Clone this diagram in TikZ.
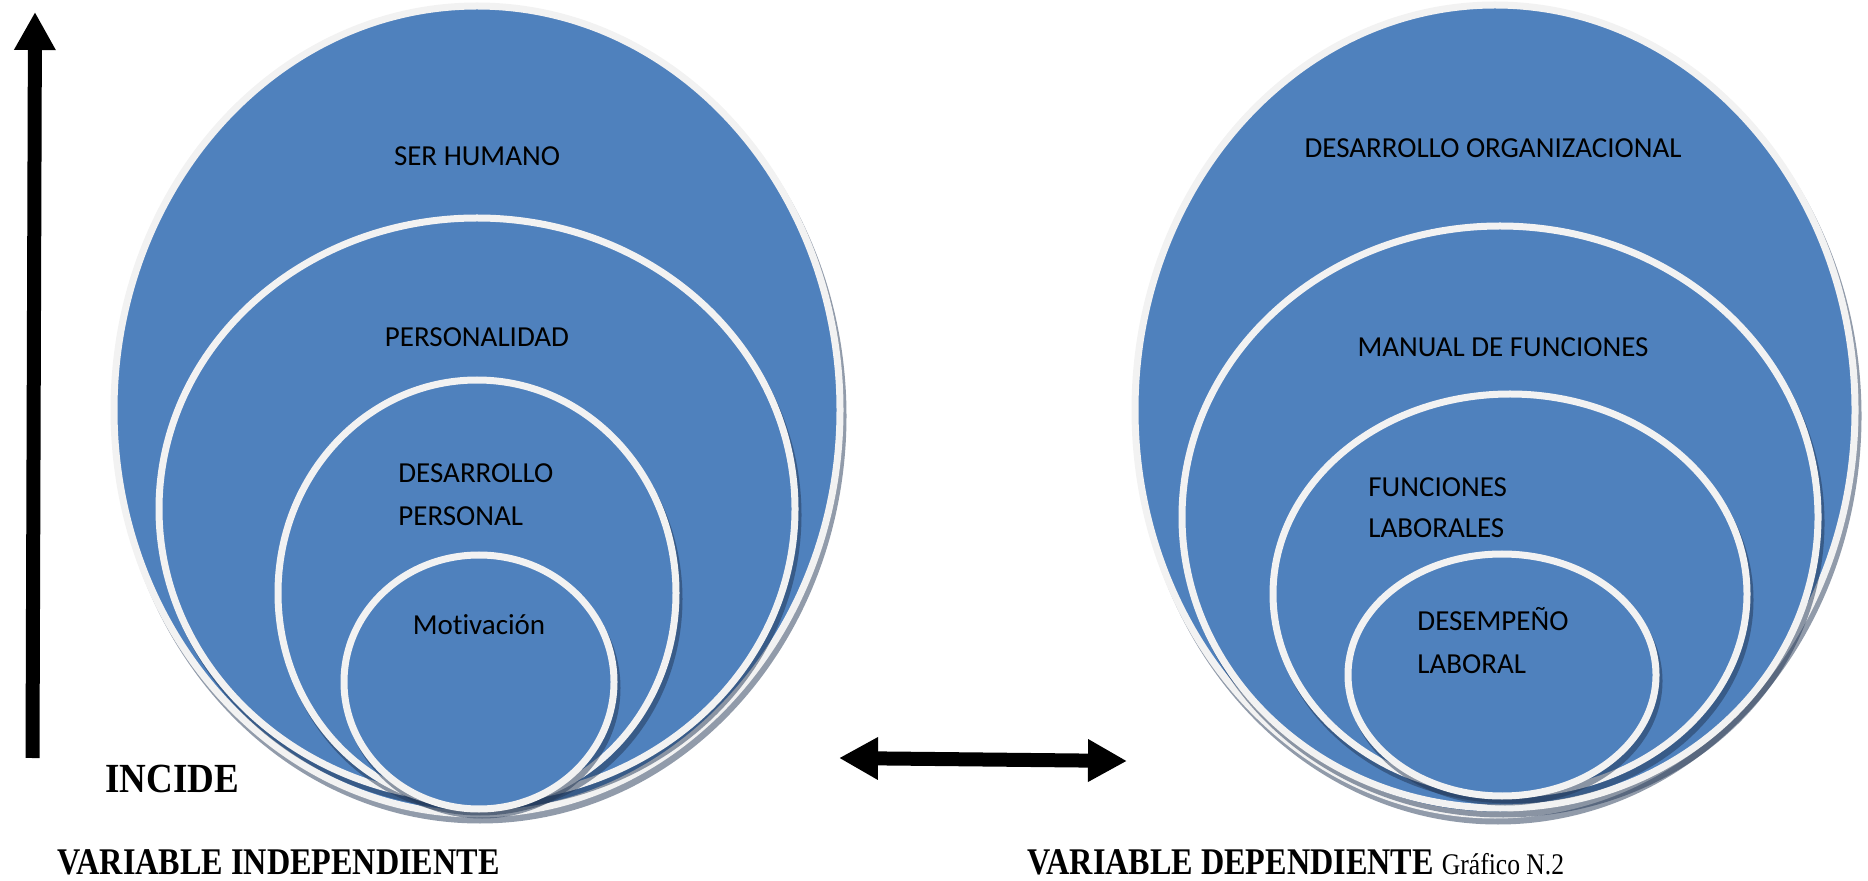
\documentclass[tikz,border=0pt]{standalone}
\usepackage{fontspec}
\usepackage{graphicx}
\setmainfont{Carlito}[Ligatures=NoCommon]
\newfontfamily\serifbold{Liberation Serif}
\usetikzlibrary{shapes.geometric,arrows.meta}

\definecolor{discblue}{RGB}{79,129,189}
\definecolor{rimwhite}{RGB}{242,242,242}
\definecolor{shadeink}{RGB}{35,55,85}

\tikzset{
  disc/.style={ellipse, fill=discblue, draw=rimwhite, line width=3.5pt, inner sep=0pt},
  discshade/.style={ellipse, fill=shadeink, fill opacity=0.5, draw=none, inner sep=0pt,
                    xshift=1.5pt, yshift=-3pt},
  lbl/.style={font=\fontsize{14.5}{17}\selectfont, inner sep=0pt, text=black},
  caption/.style={inner sep=0pt, text=black},
  fatarrow/.style={line width=7pt, draw=black}
}

% #1 name, #2 x, #3 y, #4 x-diameter (pt), #5 y-diameter (pt)
\newcommand{\disc}[5]{%
  \node[discshade, minimum width=#4pt+3.5pt, minimum height=#5pt+3.5pt] (#1s) at (#2,#3) {};
  \node[disc, minimum width=#4pt, minimum height=#5pt] (#1) at (#2,#3) {};}

\begin{document}
\begin{tikzpicture}[x=0.5pt,y=-0.5pt]
\useasboundingbox (0,0) rectangle (1868,881);

% independent variable: nested discs
\disc{L1}{477}{410}{363}{404}
\disc{L2}{477}{509}{318}{291}
\disc{L3}{477}{593}{199}{213}
\disc{L4}{479}{682}{135}{127}

% dependent variable: nested discs
\disc{R1}{1495}{410}{360}{405}
\disc{R2}{1500}{517}{318}{291}
\disc{R3}{1510}{594}{237}{200}
\disc{R4}{1502}{675}{154}{121}

% labels inside the discs
\node[lbl, anchor=base] (tL1) at (477,166) {SER HUMANO};
\node[lbl, anchor=base] (tL2) at (477,347) {PERSONALIDAD};
\node[lbl, anchor=base west] (tL3a) at (398,483) {DESARROLLO};
\node[lbl, anchor=base west] (tL3b) at (398,526) {PERSONAL};
\node[lbl, anchor=base] (tL4) at (479,634) {Motivación};

\node[lbl, anchor=base] (tR1) at (1493,158) {DESARROLLO ORGANIZACIONAL};
\node[lbl, anchor=base] (tR2) at (1503,357) {MANUAL DE FUNCIONES};
\node[lbl, anchor=base west] (tR3a) at (1368,497) {FUNCIONES};
\node[lbl, anchor=base west] (tR3b) at (1368,538) {LABORALES};
\node[lbl, anchor=base west] (tR4a) at (1417,631) {DESEMPEÑO};
\node[lbl, anchor=base west] (tR4b) at (1417,673) {LABORAL};

% arrows
\coordinate (vb) at (32.5,758);
\coordinate (vt) at (35,12);
\draw[fatarrow, -{Triangle[length=19pt,width=19.5pt]}] (vb) -- (vt);

\coordinate (hl) at (839,758);
\coordinate (hr) at (1127,761);
\draw[fatarrow, {Triangle[length=19.5pt,width=20pt]}-{Triangle[length=19.5pt,width=20pt]}] (hl) -- (hr);

% captions
\node[caption, anchor=base west] (incide) at (105,792)
  {\scalebox{1}[1.12]{\serifbold\bfseries\fontsize{18.5}{20}\selectfont INCIDE}};
\node[caption, anchor=base west] (vind) at (57,874)
  {\scalebox{1}[1.17]{\serifbold\bfseries\fontsize{16.1}{18}\selectfont VARIABLE INDEPENDIENTE}};
\node[caption, anchor=base west] (vdep) at (1027,874)
  {\scalebox{1}[1.17]{\serifbold\fontsize{16.1}{18}\selectfont\textbf{VARIABLE DEPENDIENTE} {\fontsize{12.8}{15}\selectfont Gráfico N.2}}};
\end{tikzpicture}
\end{document}
